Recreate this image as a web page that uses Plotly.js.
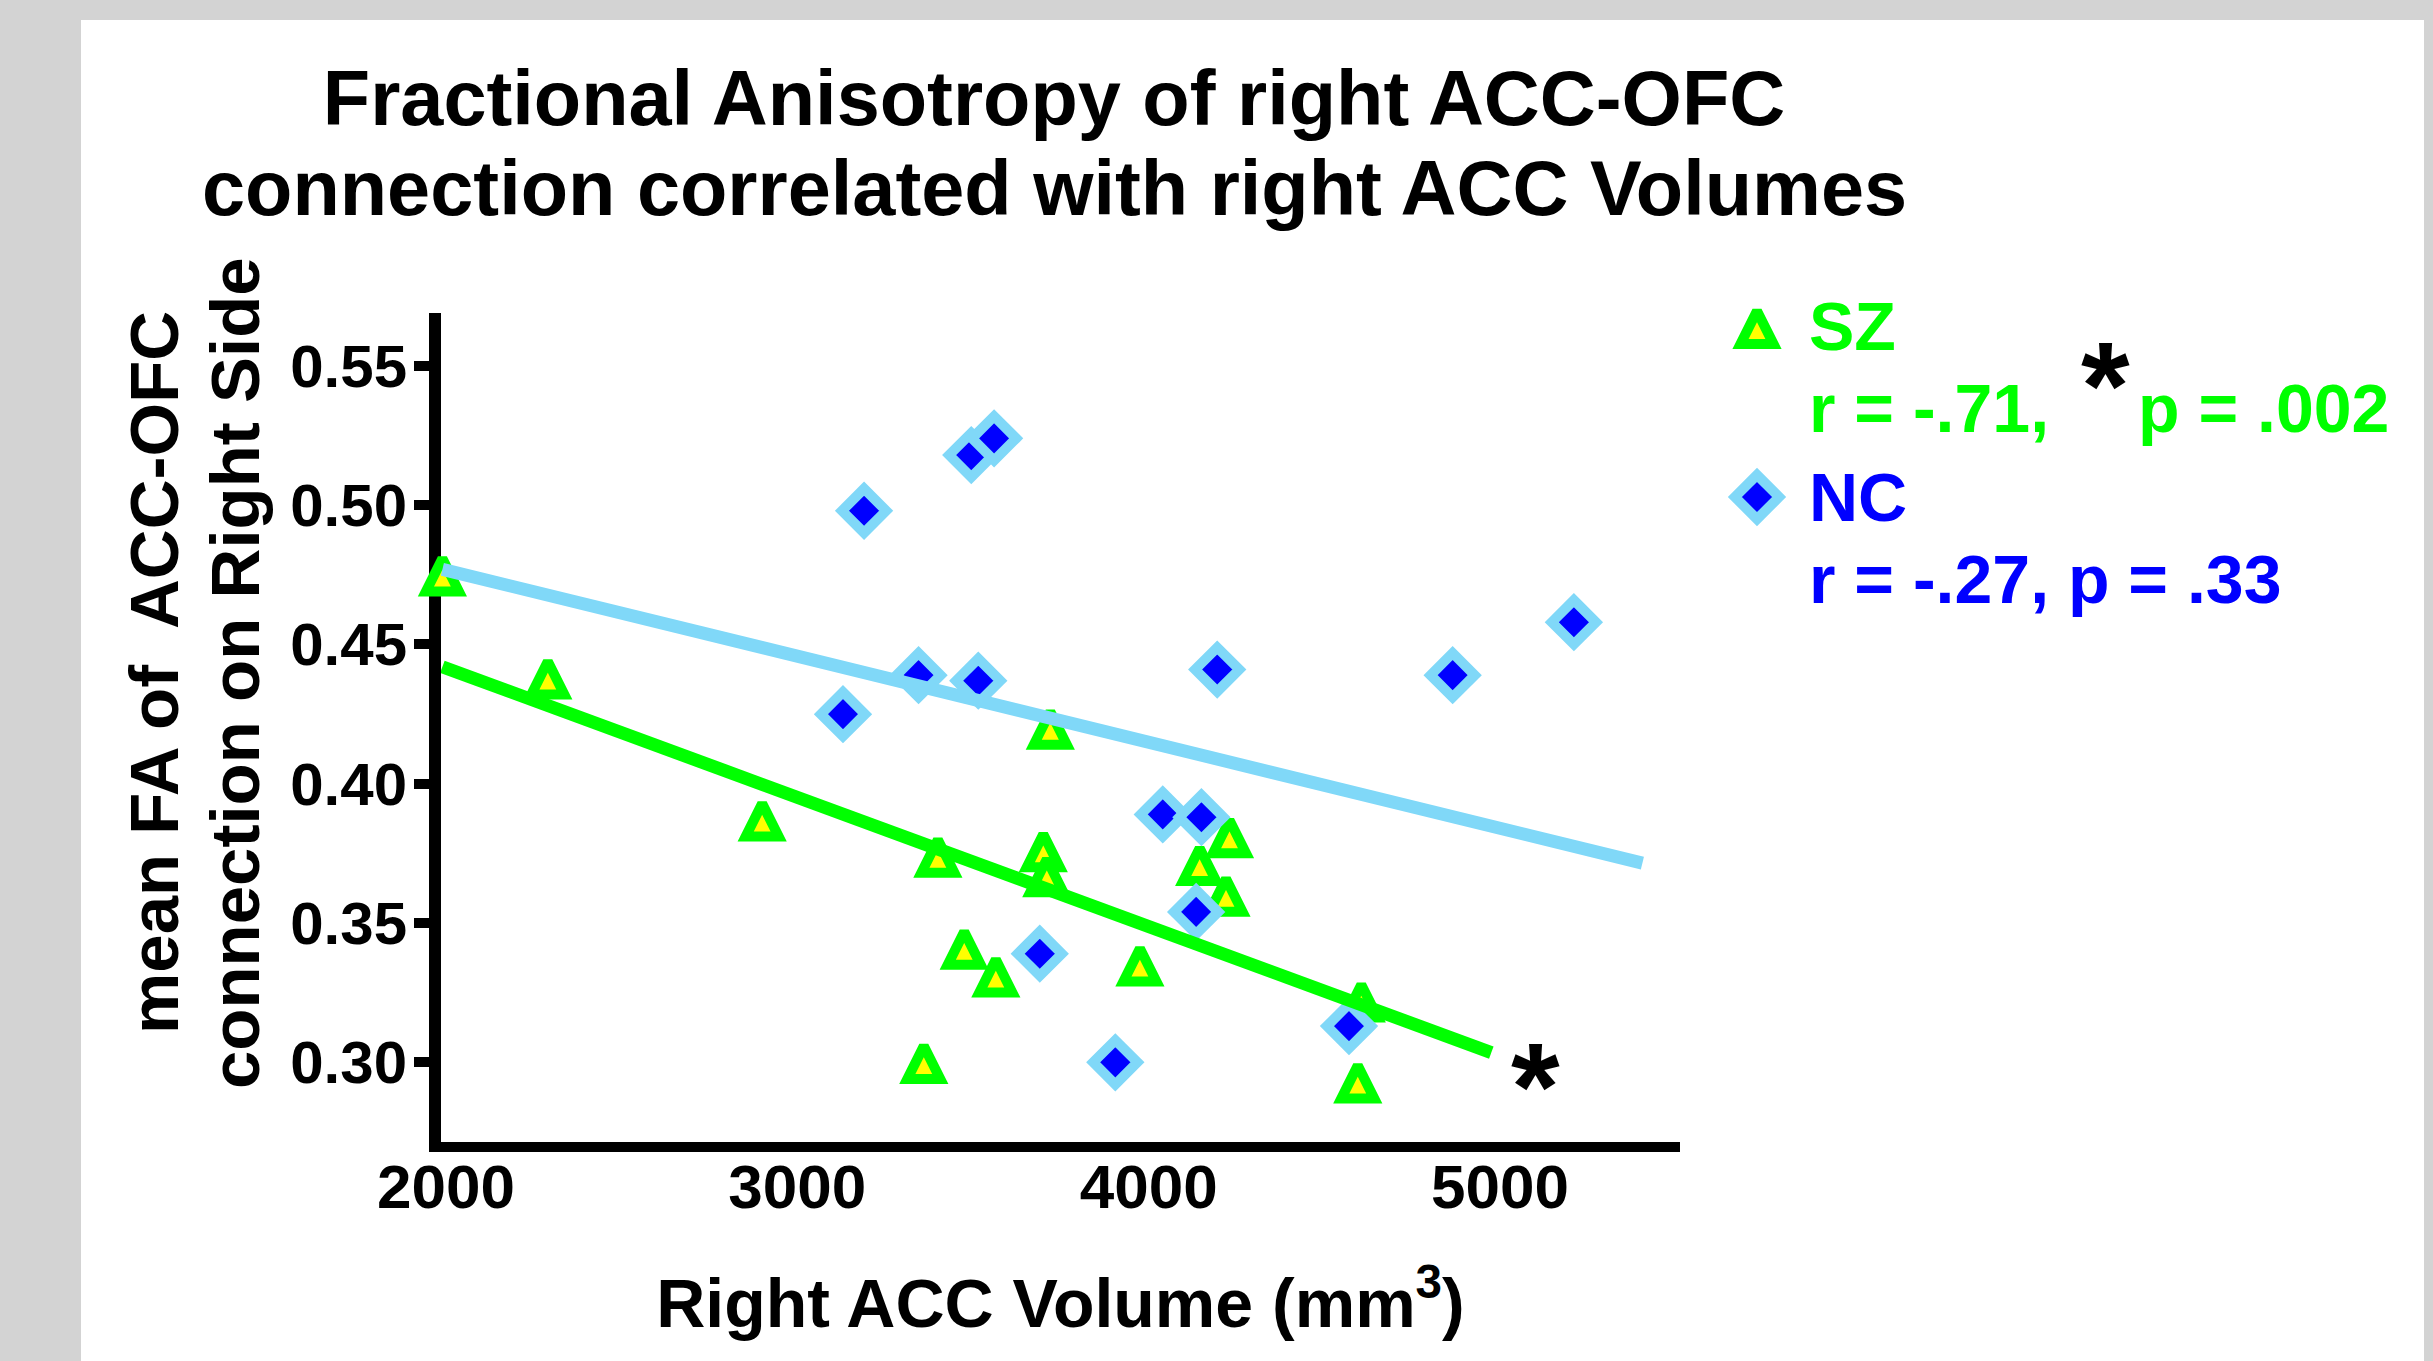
<!DOCTYPE html>
<html>
<head>
<meta charset="utf-8">
<script src="https://cdn.plot.ly/plotly-3.0.1.min.js"></script>
<style>
  html, body { margin: 0; padding: 0; background: #d3d3d3; }
  #chart { width: 2433px; height: 1361px; }
</style>
</head>
<body>
<div id="chart"></div>
<script>
// ---------------- data ----------------
const szVolume = [1990, 2290, 2900, 3360, 3400, 3475, 3565, 3700, 3710, 3720, 3975, 4145, 4220, 4230, 4595, 4605];
const szFA     = [0.473, 0.436, 0.385, 0.298, 0.372, 0.339, 0.329, 0.374, 0.365, 0.418, 0.333, 0.369, 0.358, 0.379, 0.291, 0.320];

const ncVolume = [3130, 3190, 3345, 3495, 3515, 3560, 3690, 3905, 4040, 4135, 4150, 4195, 4570, 4865, 5210];
const ncFA     = [0.425, 0.498, 0.439, 0.518, 0.437, 0.524, 0.339, 0.300, 0.389, 0.354, 0.388, 0.441, 0.313, 0.439, 0.458];

// regression lines (end points)
const szFitX = [1990, 4975];
const szFitY = [0.442, 0.3035];
const ncFitX = [1990, 5405];
const ncFitY = [0.477, 0.3715];

const xTickVals = [2000, 3000, 4000, 5000];
const xTickText = ['2000', '3000', '4000', '5000'];
const yTickVals = [0.30, 0.35, 0.40, 0.45, 0.50, 0.55];
const yTickText = ['0.30', '0.35', '0.40', '0.45', '0.50', '0.55'];

const titleLines  = ['Fractional Anisotropy of right ACC-OFC', 'connection correlated with right ACC Volumes'];
const yTitleLines = ['mean FA of\u00a0 ACC-OFC', 'connection on Right Side'];
const xTitleText  = 'Right ACC Volume (mm<sup>3</sup>)';
const groupNames  = ['SZ', 'NC'];
const szStats     = ['r = -.71,', 'p = .002'];
const ncStats     = 'r = -.27, p = .33';
const sigMark     = '*';

// ---------------- layout geometry / styles ----------------
const W = 2433, H = 1361;
const L = 441, R = 1680, T = 313, B = 1142;          // plot area in pixels
const X_RANGE = [1986, 5512];
const Y_RANGE = [0.2714, 0.5690];
const fx = p => p / W;                               // pixel -> paper (whole figure)
const fy = p => 1 - p / H;

const FONT = 'Liberation Sans, Arial, Helvetica, sans-serif';
const GREEN = '#00ff00', YELLOW = '#ffff00', BLUE = '#0000ff', LIGHTBLUE = '#80d8f8';

const TRI_SIZE = 33;
// isosceles triangle symbol, turned to point up and shifted so its centroid sits on the point
const triMarker = () => ({ symbol: 'arrow-down', angle: 180, standoff: TRI_SIZE / 2 * 4 / 3,
  size: TRI_SIZE, color: YELLOW, line: { color: GREEN, width: 10 } });
const diaMarker = () => ({ symbol: 'diamond', size: 34, color: BLUE, line: { color: LIGHTBLUE, width: 10 } });

const traces = [
  { x: szVolume, y: szFA, type: 'scatter', mode: 'markers', name: groupNames[0],
    marker: triMarker(), cliponaxis: false, showlegend: false },
  { x: ncVolume, y: ncFA, type: 'scatter', mode: 'markers', name: groupNames[1],
    marker: diaMarker(), cliponaxis: false, showlegend: false },
  { x: szFitX, y: szFitY, type: 'scatter', mode: 'lines', name: groupNames[0] + ' fit',
    line: { color: GREEN, width: 13 }, cliponaxis: false, showlegend: false },
  { x: ncFitX, y: ncFitY, type: 'scatter', mode: 'lines', name: groupNames[1] + ' fit',
    line: { color: LIGHTBLUE, width: 13 }, cliponaxis: false, showlegend: false },
  // legend keys, drawn on a hidden full-figure pixel frame (x2/y2)
  { x: [1757], y: [333], xaxis: 'x2', yaxis: 'y2', type: 'scatter', mode: 'markers',
    name: groupNames[0] + ' key', marker: triMarker(), cliponaxis: false, showlegend: false },
  { x: [1757], y: [497], xaxis: 'x2', yaxis: 'y2', type: 'scatter', mode: 'markers',
    name: groupNames[1] + ' key', marker: diaMarker(), cliponaxis: false, showlegend: false }
];

function txt(text, xpx, ypx, size, color, opts) {
  return Object.assign({
    text: text, xref: 'paper', yref: 'paper', x: fx(xpx), y: fy(ypx),
    xanchor: 'center', yanchor: 'middle', showarrow: false,
    font: { family: FONT, size: size, color: color, weight: 700 }
  }, opts || {});
}

const annotations = [
  txt(titleLines[1], 1054, 215 - 26.8, 77.5, '#000'),
  txt(yTitleLines[0], 178 - 23.9, 673, 69, '#000', { textangle: -90 }),
  txt(yTitleLines[1], 259 - 23.9, 673, 69, '#000', { textangle: -90 }),
  txt(groupNames[0], 1807, 350 - 23.6, 68, GREEN, { xanchor: 'left' }),
  txt(szStats[0], 1807, 432 - 23.6, 68, GREEN, { xanchor: 'left' }),
  txt(szStats[1], 2136, 432 - 23.6, 68, GREEN, { xanchor: 'left' }),
  txt(sigMark, 2105, 386, 125, '#000'),
  txt(groupNames[1], 1807, 521 - 23.6, 68, BLUE, { xanchor: 'left' }),
  txt(ncStats, 1807, 603 - 23.6, 68, BLUE, { xanchor: 'left' }),
  txt(sigMark, 1535, 1086, 125, '#000')
];

const layout = {
  width: W, height: H, autosize: false,
  margin: { l: 0, r: 0, t: 0, b: 0, pad: 0 },
  paper_bgcolor: '#d3d3d3',
  plot_bgcolor: 'rgba(0,0,0,0)',
  showlegend: false,
  font: { family: FONT, color: '#000', weight: 700 },
  title: {
    text: titleLines[0], xref: 'paper', yref: 'paper',
    x: fx(1054), xanchor: 'center', y: fy(125 - 0.35 * 77.5), yanchor: 'middle',
    font: { family: FONT, size: 77.5, color: '#000', weight: 700 }
  },
  shapes: [
    { type: 'rect', xref: 'paper', yref: 'paper', x0: fx(81), x1: fx(2424), y0: -0.05, y1: fy(20),
      fillcolor: '#ffffff', line: { width: 0 }, layer: 'below' }
  ],
  xaxis: {
    domain: [L / W, R / W], anchor: 'y',
    range: X_RANGE, tickvals: xTickVals, ticktext: xTickText,
    showline: true, linewidth: 10, linecolor: '#000', ticks: '',
    ticklabelstandoff: -18,
    showgrid: false, zeroline: false, layer: 'below traces', fixedrange: true,
    tickfont: { family: FONT, size: 62, color: '#000', weight: 700 },
    title: { text: xTitleText, standoff: 63, font: { family: FONT, size: 68, color: '#000', weight: 700 } }
  },
  yaxis: {
    domain: [1 - B / H, 1 - T / H], anchor: 'x',
    range: Y_RANGE, tickvals: yTickVals, ticktext: yTickText,
    showline: true, linewidth: 12, linecolor: '#000',
    ticks: 'outside', ticklen: 15, tickwidth: 10, tickcolor: '#000',
    ticklabelstandoff: -5,
    showgrid: false, zeroline: false, layer: 'below traces', fixedrange: true,
    tickfont: { family: FONT, size: 60, color: '#000', weight: 700 }
  },
  xaxis2: { domain: [0, 1], anchor: 'y2', range: [0, W], visible: false, fixedrange: true },
  yaxis2: { domain: [0, 1], anchor: 'x2', range: [H, 0], visible: false, fixedrange: true },
  annotations: annotations
};

Plotly.newPlot('chart', traces, layout, { staticPlot: true, displayModeBar: false });
</script>
</body>
</html>
